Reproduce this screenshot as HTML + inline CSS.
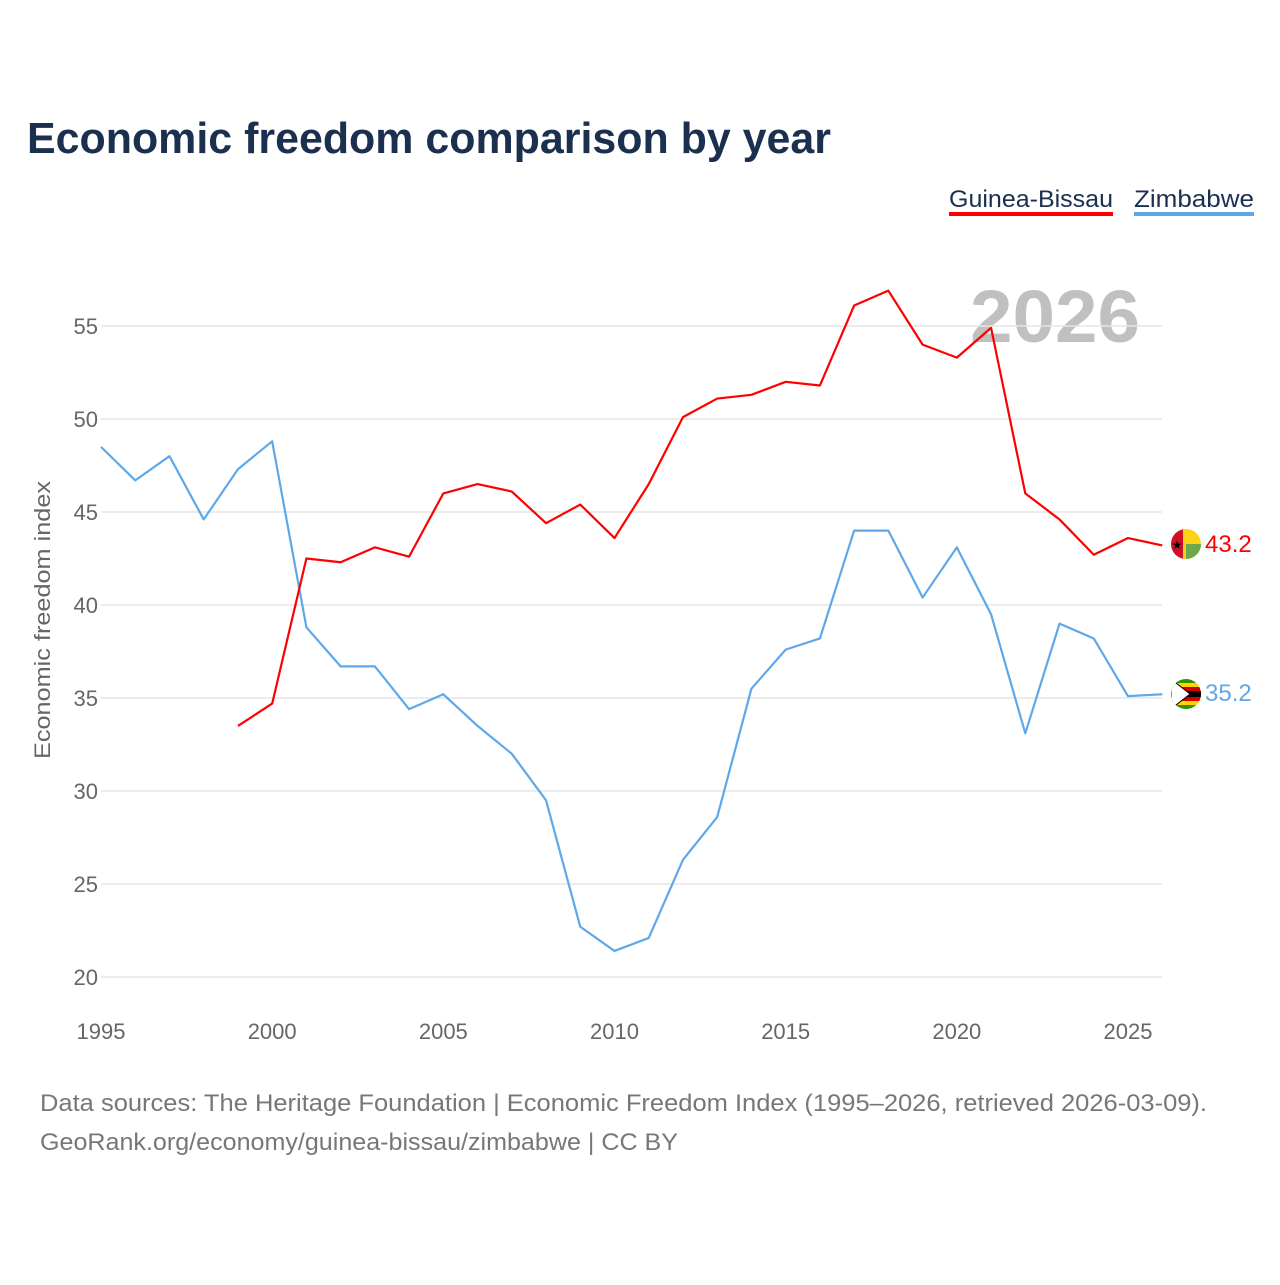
<!DOCTYPE html>
<html><head><meta charset="utf-8"><style>
body{margin:0;background:#fff;font-family:"Liberation Sans",sans-serif}
</style></head><body>
<svg width="1280" height="1280" viewBox="0 0 1280 1280" xmlns="http://www.w3.org/2000/svg">
<defs>
<clipPath id="c1"><circle cx="1186" cy="544" r="15"/></clipPath>
<clipPath id="c2"><circle cx="1186" cy="694" r="15"/></clipPath>
</defs>
<text x="27" y="153" font-size="44" font-weight="bold" fill="#1b2f4f" textLength="804" lengthAdjust="spacingAndGlyphs">Economic freedom comparison by year</text>
<g><text x="949" y="207" font-size="24" fill="#1b2f4f" textLength="164" lengthAdjust="spacingAndGlyphs">Guinea-Bissau</text><rect x="949" y="212" width="164" height="4" fill="#ff0000"/></g>
<g><text x="1134" y="207" font-size="24" fill="#1b2f4f" textLength="120" lengthAdjust="spacingAndGlyphs">Zimbabwe</text><rect x="1134" y="212" width="120" height="4" fill="#5ea8ea"/></g>
<text x="1140" y="342" font-size="74" font-weight="bold" fill="#c0c0c0" text-anchor="end" textLength="170" lengthAdjust="spacingAndGlyphs">2026</text>
<g id="grid"></g><g id="lines"></g>
<text transform="translate(50,620) rotate(-90)" font-size="22" fill="#666" text-anchor="middle" textLength="278" lengthAdjust="spacingAndGlyphs">Economic freedom index</text>
<g clip-path="url(#c1)"><rect x="1171" y="529" width="30" height="30" fill="#fcd116"/><rect x="1186" y="544" width="15" height="15" fill="#6ea84a"/><rect x="1171" y="529" width="12" height="30" fill="#ce1126"/><text x="1177" y="549" font-size="12" text-anchor="middle">★</text></g>
<g clip-path="url(#c2)"><rect x="1171" y="679" width="30" height="30" fill="#319208"/><rect x="1171" y="683" width="30" height="22" fill="#ffd200"/><rect x="1171" y="687" width="30" height="14" fill="#d40000"/><rect x="1171" y="691" width="30" height="6" fill="#000"/><polygon points="1171,679 1190,694 1171,709" fill="#fff" stroke="#000" stroke-width="1"/></g>
<text x="1205" y="552" font-size="24" fill="#ff0000">43.2</text>
<text x="1205" y="701" font-size="24" fill="#5ea8ea">35.2</text>
<text x="40" y="1111" font-size="24" fill="#777" textLength="1167" lengthAdjust="spacingAndGlyphs">Data sources: The Heritage Foundation | Economic Freedom Index (1995–2026, retrieved 2026-03-09).</text>
<text x="40" y="1150" font-size="24" fill="#777" textLength="638" lengthAdjust="spacingAndGlyphs">GeoRank.org/economy/guinea-bissau/zimbabwe | CC BY</text>
</svg>
<script>
const yTicks=[20,25,30,35,40,45,50,55];
const xTicks=[1995,2000,2005,2010,2015,2020,2025];
const gbYears=[1999,2000,2001,2002,2003,2004,2005,2006,2007,2008,2009,2010,2011,2012,2013,2014,2015,2016,2017,2018,2019,2020,2021,2022,2023,2024,2025,2026];
const gbValues=[33.5,34.7,42.5,42.3,43.1,42.6,46.0,46.5,46.1,44.4,45.4,43.6,46.5,50.1,51.1,51.3,52.0,51.8,56.1,56.9,54.0,53.3,54.9,46.0,44.6,42.7,43.6,43.2];
const zwYears=[1995,1996,1997,1998,1999,2000,2001,2002,2003,2004,2005,2006,2007,2008,2009,2010,2011,2012,2013,2014,2015,2016,2017,2018,2019,2020,2021,2022,2023,2024,2025,2026];
const zwValues=[48.5,46.7,48.0,44.6,47.3,48.8,38.8,36.7,36.7,34.4,35.2,33.5,32.0,29.5,22.7,21.4,22.1,26.3,28.6,35.5,37.6,38.2,44.0,44.0,40.4,43.1,39.5,33.1,39.0,38.2,35.1,35.2];
const NS='http://www.w3.org/2000/svg';
const X=y=>101+(y-1995)*(1027/30);
const Y=v=>977-(v-20)*18.6;
const grid=document.getElementById('grid'),lines=document.getElementById('lines');
function mk(t,a,p){const e=document.createElementNS(NS,t);for(const k in a)e.setAttribute(k,a[k]);p.appendChild(e);return e;}
yTicks.forEach(v=>{
 const l=mk('line',{x1:101,x2:1162,y1:Y(v),y2:Y(v),stroke:'#e6e6e6','stroke-width':1.5},grid);
 
 
 const t=mk('text',{x:98,y:Y(v)+8,'font-size':22,fill:'#666','text-anchor':'end'},grid);t.textContent=v;
 
 
});
xTicks.forEach(v=>{
 const t=mk('text',{x:X(v),y:1039,'font-size':22,fill:'#666','text-anchor':'middle'},grid);t.textContent=v;
 
 
});
function line(ys,vs,c,n){
 const p=mk('polyline',{points:ys.map((y,i)=>X(y)+','+Y(vs[i])).join(' '),fill:'none',stroke:c,'stroke-width':2.2,'stroke-linejoin':'round'},lines);
 
 
}
line(zwYears,zwValues,'#5ea8ea','line-zimbabwe');
line(gbYears,gbValues,'#ff0000','line-guinea-bissau');
</script>
</body></html>
